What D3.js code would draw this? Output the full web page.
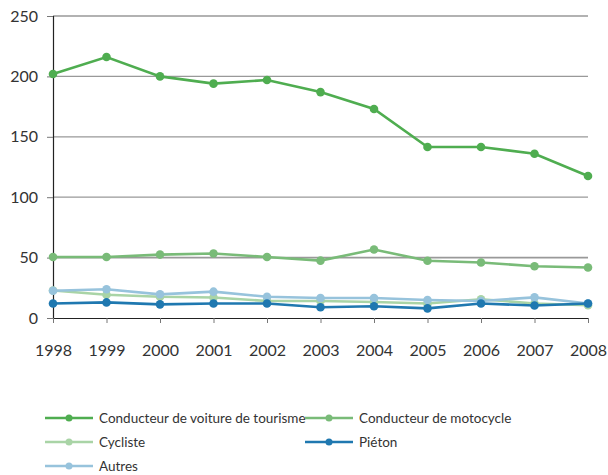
<!DOCTYPE html>
<html>
<head>
<meta charset="utf-8">
<script src="https://cdn.jsdelivr.net/npm/d3@7"></script>
<style>
  body { margin: 0; background: #fff; }
  svg text { font-family: Lato, "Open Sans", sans-serif; fill: #333; }
</style>
</head>
<body>
<div id="chart"></div>
<script>
// Data
var years = [1998, 1999, 2000, 2001, 2002, 2003, 2004, 2005, 2006, 2007, 2008];
var voiture = [202, 216, 200, 194, 197, 187, 173, 141.6, 141.5, 136, 117.5];
var moto = [50.5, 50.5, 52.5, 53.4, 50.5, 47.5, 56.7, 47.4, 46, 42.8, 41.8];
var cycliste = [22.8, 19.3, 17.6, 17, 14.1, 14.1, 13.2, 12, 15.5, 12, 10.5];
var pieton = [12, 12.9, 11.3, 12, 12, 8.9, 9.7, 8, 12, 10.3, 12];
var autres = [22.6, 23.8, 19.6, 21.8, 17.6, 16.5, 16.5, 14.9, 14.1, 17.1, 12];
var yTicks = [0, 50, 100, 150, 200, 250];

var series = [
    {name: 'Conducteur de voiture de tourisme', values: voiture, color: '#4fad50'},
    {name: 'Conducteur de motocycle', values: moto, color: '#79bb78'},
    {name: 'Cycliste', values: cycliste, color: '#a9d4a6'},
    {name: 'Piéton', values: pieton, color: '#1f78b0'},
    {name: 'Autres', values: autres, color: '#97c3dc'}
];
// draw order: back to front
var drawOrder = [2, 4, 3, 1, 0];

var width = 608,
    height = 475,
    margin = {left: 53, right: 20, top: 16, bottom: 157};

var chartWidth = width - margin.left - margin.right;
var chartHeight = height - margin.top - margin.bottom;

var svg = d3.select('#chart').append('svg')
    .attr('width', width)
    .attr('height', height);

var g = svg.append('g')
    .attr('transform', 'translate(' + margin.left + ',' + margin.top + ')');

var xScale = d3.scalePoint().domain(years).range([0, chartWidth]);
var yScale = d3.scaleLinear().domain([0, 250]).range([chartHeight, 0]);

// Gridlines
g.append('g').selectAll('line')
    .data(yTicks.filter((d) => d > 0))
    .enter().append('line')
    .attr('x1', 0)
    .attr('x2', chartWidth)
    .attr('y1', (d) => yScale(d))
    .attr('y2', (d) => yScale(d))
    .attr('stroke', (d) => d == 250 ? '#666' : '#999')
    .attr('stroke-width', (d) => d == 50 ? 1.8 : 1.2);

// Y axis
var yAxis = g.append('g')
    .call(d3.axisLeft(yScale).tickValues(yTicks).tickSize(6).tickPadding(9));
yAxis.select('.domain').attr('stroke', '#222').attr('stroke-width', 1.2);
yAxis.selectAll('.tick line').attr('stroke', '#777');
yAxis.selectAll('.tick text').style('font-size', '16px').attr('fill', '#333');

// X axis
var xAxis = g.append('g')
    .attr('transform', 'translate(0,' + chartHeight + ')')
    .call(d3.axisBottom(xScale).tickSize(5).tickPadding(22).tickSizeOuter(0));
xAxis.select('.domain').attr('stroke', '#222').attr('stroke-width', 1.2);
xAxis.selectAll('.tick line').attr('stroke', '#777');
xAxis.selectAll('.tick text').style('font-size', '16px').attr('fill', '#333');

// Lines and markers
var line = d3.line()
    .x((d, i) => xScale(years[i]))
    .y((d) => yScale(d));

drawOrder.forEach(function(k) {
    var s = series[k];
    var sg = g.append('g');
    sg.append('path')
        .datum(s.values)
        .attr('fill', 'none')
        .attr('stroke', s.color)
        .attr('stroke-width', 2.6)
        .attr('d', line);
    sg.selectAll('circle')
        .data(s.values)
        .enter().append('circle')
        .attr('cx', (d, i) => xScale(years[i]))
        .attr('cy', (d) => yScale(d))
        .attr('r', 4.3)
        .attr('fill', s.color);
});

// Legend
var legend = svg.append('g');
var legendItems = legend.selectAll('g')
    .data(series)
    .enter().append('g')
    .attr('transform', (d, i) => 'translate(' + (i % 2 ? 305 : 45) + ',' + (418 + Math.floor(i / 2) * 24) + ')');

legendItems.append('line')
    .attr('x1', 0).attr('x2', 48)
    .attr('stroke', (d) => d.color)
    .attr('stroke-width', 2.6);
legendItems.append('circle')
    .attr('cx', 24)
    .attr('r', 3.5)
    .attr('fill', (d) => d.color);
legendItems.append('text')
    .attr('x', 54)
    .attr('dy', '0.35em')
    .style('font-size', '13.5px')
    .text((d) => d.name);
</script>
</body>
</html>
